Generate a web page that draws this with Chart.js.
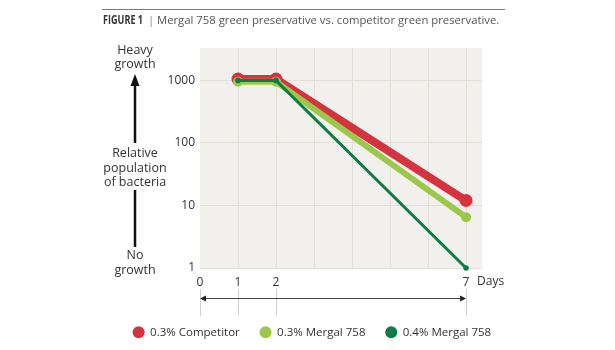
<!DOCTYPE html>
<html>
<head>
<meta charset="utf-8">
<script src="https://cdn.jsdelivr.net/npm/chart.js@4/dist/chart.umd.min.js"></script>
<style>
  html, body { margin: 0; padding: 0; background: #ffffff; }
  #wrap { width: 615px; height: 350px; position: relative; }
</style>
</head>
<body>
<div id="wrap"><canvas id="c" width="615" height="350"></canvas></div>
<script>
// ---- data ----
const days = [1, 2, 7];
const competitor03 = [1050, 1050, 12];
const mergal03 = [950, 950, 6.5];
const mergal04 = [1000, 1000, 1];
const seriesNames = ['0.3% Competitor', '0.3% Mergal 758', '0.4% Mergal 758'];
const yTickValues = [1, 10, 100, 1000];
const xGridDays = [0, 1, 2, 3, 4, 5, 6, 7];
const xTickLabels = [0, 1, 2, 7];
const titleBold = 'FIGURE 1';
const titleText = 'Mergal 758 green preservative vs. competitor green preservative.';

const RED = '#d5333f', LIGHT = '#9bc84a', DARK = '#0e7a46';

const toXY = arr => days.map((d, i) => ({ x: d, y: arr[i] }));

const FONT = "'Open Sans', 'DejaVu Sans', sans-serif";
Chart.defaults.font.family = FONT;
Chart.defaults.font.size = 12;
Chart.defaults.color = '#333333';

const decorPlugin = {
  id: 'decor',
  beforeDraw(chart) {
    const { ctx, chartArea: a } = chart;
    ctx.save();
    ctx.fillStyle = '#f2f0ed';
    ctx.fillRect(a.left, a.top, a.right - a.left, a.bottom - a.top);
    ctx.restore();
  },
  afterDraw(chart) {
    const { ctx } = chart;
    const xs = chart.scales.x;
    ctx.save();
    // top rule
    ctx.strokeStyle = '#7a7a7a';
    ctx.lineWidth = 1;
    ctx.beginPath(); ctx.moveTo(102, 9.5); ctx.lineTo(505, 9.5); ctx.stroke();
    // title
    ctx.textBaseline = 'middle';
    ctx.textAlign = 'left';
    ctx.fillStyle = '#333';
    ctx.font = "bold 12px 'Open Sans', sans-serif";
    const bw = ctx.measureText(titleBold).width;
    const sx = 40 / bw;
    ctx.save();
    ctx.translate(103, 21);
    ctx.scale(sx, 1);
    ctx.fillText(titleBold, 0, 0);
    ctx.restore();
    ctx.fillStyle = '#888';
    ctx.font = "11.3px " + FONT;
    ctx.fillText('|', 148, 21);
    ctx.fillStyle = '#555';
    ctx.fillText(titleText, 157, 21);

    // left axis description
    ctx.fillStyle = '#333';
    ctx.textAlign = 'center';
    ctx.font = "12.5px " + FONT;
    const cx = 135;
    [['Heavy', 50], ['growth', 64], ['Relative', 153], ['population', 168], ['of bacteria', 182], ['No', 255], ['growth', 270]]
      .forEach(([t, y]) => ctx.fillText(t, cx, y));
    ctx.strokeStyle = '#111';
    ctx.lineWidth = 2.5;
    ctx.beginPath(); ctx.moveTo(cx, 143); ctx.lineTo(cx, 84); ctx.stroke();
    ctx.fillStyle = '#111';
    ctx.beginPath(); ctx.moveTo(cx, 74); ctx.lineTo(cx - 4.5, 86); ctx.lineTo(cx + 4.5, 86); ctx.closePath(); ctx.fill();
    ctx.beginPath(); ctx.moveTo(cx, 190); ctx.lineTo(cx, 247); ctx.stroke();

    // Days label
    ctx.fillStyle = '#333';
    ctx.textAlign = 'left';
    ctx.font = "12px " + FONT;
    ctx.fillText('Days', 477, 282);

    // day bracket lines
    ctx.strokeStyle = '#cfcfcf';
    ctx.lineWidth = 1;
    xTickLabels.forEach(v => {
      const px = Math.round(xs.getPixelForValue(v)) + 0.5;
      ctx.beginPath(); ctx.moveTo(px, 289); ctx.lineTo(px, 316); ctx.stroke();
    });
    const x0 = xs.getPixelForValue(xTickLabels[0]);
    const x1 = xs.getPixelForValue(xTickLabels[xTickLabels.length - 1]);
    ctx.strokeStyle = '#444';
    ctx.beginPath(); ctx.moveTo(x0 + 2, 298.5); ctx.lineTo(x1 - 2, 298.5); ctx.stroke();
    ctx.fillStyle = '#222';
    ctx.beginPath(); ctx.moveTo(x0, 298.5); ctx.lineTo(x0 + 6, 295.5); ctx.lineTo(x0 + 6, 301.5); ctx.closePath(); ctx.fill();
    ctx.beginPath(); ctx.moveTo(x1, 298.5); ctx.lineTo(x1 - 6, 295.5); ctx.lineTo(x1 - 6, 301.5); ctx.closePath(); ctx.fill();
    ctx.restore();
  }
};

new Chart(document.getElementById('c'), {
  type: 'line',
  data: {
    datasets: [
      { label: seriesNames[0], data: toXY(competitor03), borderColor: RED, backgroundColor: RED,
        borderWidth: 8, pointRadius: 6.5, pointBorderWidth: 0, pointBackgroundColor: RED, order: 3, clip: false },
      { label: seriesNames[1], data: toXY(mergal03), borderColor: LIGHT, backgroundColor: LIGHT,
        borderWidth: 6, pointRadius: 5, pointBorderWidth: 0, pointBackgroundColor: LIGHT, order: 2, clip: false },
      { label: seriesNames[2], data: toXY(mergal04), borderColor: DARK, backgroundColor: DARK,
        borderWidth: 3, pointRadius: 2.8, pointBorderWidth: 0, pointBackgroundColor: DARK, order: 1, clip: false }
    ]
  },
  options: {
    responsive: false,
    animation: false,
    layout: { padding: { left: 9, right: 0, top: 48, bottom: 2 } },
    plugins: {
      tooltip: { enabled: false },
      legend: {
        position: 'bottom',
        labels: {
          usePointStyle: true,
          boxWidth: 12,
          boxHeight: 8.5,
          padding: 20,
          color: '#333',
          font: { size: 11.5, family: FONT },
          sort: (a, b) => a.datasetIndex - b.datasetIndex,
          generateLabels(chart) {
            const items = Chart.defaults.plugins.legend.labels.generateLabels(chart);
            items.forEach(it => { it.lineWidth = 0; it.strokeStyle = 'transparent'; });
            return items;
          }
        }
      }
    },
    scales: {
      x: {
        type: 'linear',
        min: 0,
        max: 7.42,
        afterBuildTicks(s) { s.ticks = xGridDays.map(v => ({ value: v })); },
        afterFit(s) { s.height = 38.5; },
        grid: {
          drawTicks: false,
          color: c => (c.tick && c.tick.value === 0) ? 'rgba(0,0,0,0)' : '#e2dfdb',
          lineWidth: 1
        },
        border: { display: false },
        ticks: {
          padding: 7,
          maxRotation: 0,
          autoSkip: false,
          color: '#333',
          font: { size: 12 },
          callback: v => xTickLabels.includes(v) ? String(v) : ''
        }
      },
      y: {
        type: 'logarithmic',
        min: 1,
        max: 3300,
        afterBuildTicks(s) { s.ticks = yTickValues.map(v => ({ value: v })); },
        afterFit(s) { s.width = 191; },
        grid: { drawTicks: false, color: '#e2dfdb', lineWidth: 1 },
        border: { display: false },
        ticks: {
          padding: 5,
          color: '#333',
          font: { size: 12 },
          callback: v => String(v)
        }
      },
      yR: {
        type: 'linear',
        position: 'right',
        display: true,
        grid: { display: false, drawTicks: false },
        border: { display: false },
        ticks: { display: false },
        afterFit(s) { s.width = 133; }
      }
    }
  },
  plugins: [decorPlugin]
});
</script>
</body>
</html>
